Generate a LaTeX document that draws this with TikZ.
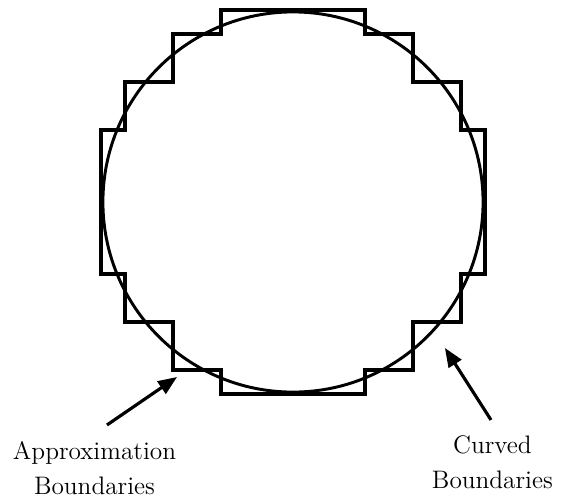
\documentclass[tikz,border=0pt]{standalone}
\usetikzlibrary{arrows.meta}
\tikzset{
  stair/.style={line width=2.2pt, line join=miter},
  bound/.style={line width=1.4pt},
  pointer/.style={line width=1.5pt, -{Triangle[length=9pt,width=7pt]}},
  caption/.style={align=center, inner sep=0pt, anchor=north,
    font=\fontsize{12}{16.5}\selectfont}
}
\begin{document}
\begin{tikzpicture}[x=0.4cm, y=0.4cm]
  \useasboundingbox (-12.208,-12.458) rectangle (11.25,8.417);
  % stepped approximation
  \draw[stair] (-3,8) -- (3,8) -- (3,7) -- (5,7) -- (5,5) -- (7,5)
    -- (7,3) -- (8,3) -- (8,-3) -- (7,-3) -- (7,-5) -- (5,-5)
    -- (5,-7) -- (3,-7) -- (3,-8) -- (-3,-8) -- (-3,-7) -- (-5,-7)
    -- (-5,-5) -- (-7,-5) -- (-7,-3) -- (-8,-3) -- (-8,3) -- (-7,3)
    -- (-7,5) -- (-5,5) -- (-5,7) -- (-3,7) -- cycle;
  % true boundary
  \draw[bound] (0,0) circle (7.92);
  % labels
  \node[caption] (approx) at (-8.27,-9.96) {Approximation\\Boundaries};
  \node[caption] (curved) at (8.31,-9.71) {Curved\\Boundaries};
  \coordinate (approxtail) at (-7.75,-9.29);
  \coordinate (approxtip) at (-4.83,-7.29);
  \coordinate (curvedtail) at (8.25,-9.08);
  \coordinate (curvedtip) at (6.33,-6.08);
  \draw[pointer] (approxtail) -- (approxtip);
  \draw[pointer] (curvedtail) -- (curvedtip);
\end{tikzpicture}
\end{document}
